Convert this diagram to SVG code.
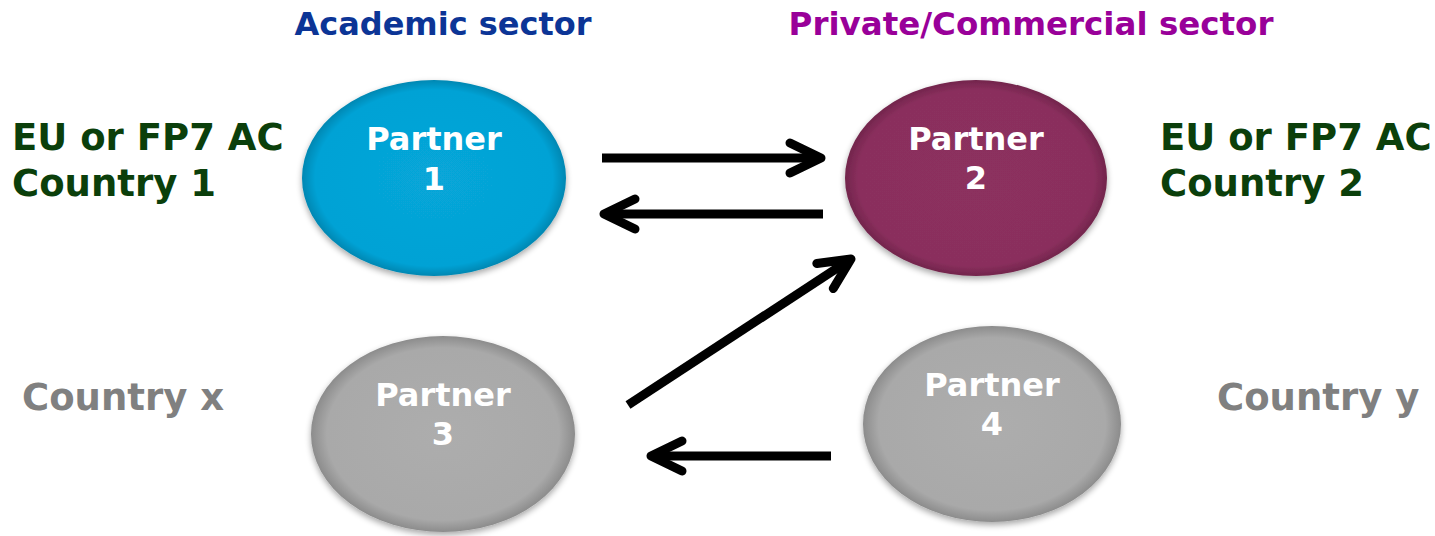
<svg xmlns="http://www.w3.org/2000/svg" width="1435" height="536" viewBox="0 0 1435 536">
<style>
text{font-family:"DejaVu Sans",Verdana,sans-serif;font-weight:bold}
.pt{fill:#ffffff;font-size:32px;text-anchor:middle}
.side{fill:#0b3f0b;font-size:37px}
.gray{fill:#808080;font-size:37px}
.conn line{stroke:#000;stroke-width:9;fill:none}
</style>
<defs>
<radialGradient id="gBlue" cx="50%" cy="50%" r="50%">
<stop offset="0%" stop-color="#07a6d8"/><stop offset="90%" stop-color="#05a2d5"/><stop offset="100%" stop-color="#0587b2"/>
</radialGradient>
<radialGradient id="gPurple" cx="50%" cy="50%" r="50%">
<stop offset="0%" stop-color="#8c305e"/><stop offset="90%" stop-color="#8a2f5d"/><stop offset="100%" stop-color="#72254c"/>
</radialGradient>
<radialGradient id="gGray" cx="50%" cy="50%" r="50%">
<stop offset="0%" stop-color="#adadad"/><stop offset="88%" stop-color="#a9a9a9"/><stop offset="100%" stop-color="#8c8c8c"/>
</radialGradient>
<filter id="sh" x="-10%" y="-10%" width="120%" height="125%">
<feGaussianBlur in="SourceAlpha" stdDeviation="3"/><feOffset dx="0" dy="3" result="b"/>
<feComponentTransfer><feFuncA type="linear" slope="0.35"/></feComponentTransfer>
<feMerge><feMergeNode/><feMergeNode in="SourceGraphic"/></feMerge>
</filter>
<marker id="ah" markerUnits="userSpaceOnUse" markerWidth="60" markerHeight="60" viewBox="-40 -30 50 60" refX="0" refY="0" orient="auto" overflow="visible">
<path d="M -31 -15 L 0 0 L -31 15" fill="none" stroke="#000" stroke-width="9" stroke-linecap="round" stroke-linejoin="round"/>
</marker>
</defs>
<rect width="1435" height="536" fill="#fff"/>
<g id="labels">
<text x="443" y="35" font-size="32" fill="#0c3596" text-anchor="middle">Academic sector</text>
<text x="1031" y="35" font-size="32.5" fill="#990099" text-anchor="middle">Private/Commercial sector</text>
<text class="side" x="12" y="150">EU or FP7 AC</text>
<text class="side" x="12" y="196">Country 1</text>
<text class="side" x="1160" y="150">EU or FP7 AC</text>
<text class="side" x="1160" y="196">Country 2</text>
<text class="gray" x="22" y="410">Country x</text>
<text class="gray" x="1217" y="410">Country y</text>
</g>
<g id="partner1">
<ellipse cx="434" cy="178" rx="132" ry="98" fill="url(#gBlue)" filter="url(#sh)"/>
<text class="pt" x="434" y="150">Partner</text>
<text class="pt" x="434" y="190">1</text>
</g>
<g id="partner2">
<ellipse cx="976" cy="178" rx="131" ry="98" fill="url(#gPurple)" filter="url(#sh)"/>
<text class="pt" x="976" y="150">Partner</text>
<text class="pt" x="976" y="189">2</text>
</g>
<g id="partner3">
<ellipse cx="443" cy="434" rx="132" ry="98" fill="url(#gGray)" filter="url(#sh)"/>
<text class="pt" x="443" y="406">Partner</text>
<text class="pt" x="443" y="445">3</text>
</g>
<g id="partner4">
<ellipse cx="992" cy="424" rx="129" ry="98" fill="url(#gGray)" filter="url(#sh)"/>
<text class="pt" x="992" y="396">Partner</text>
<text class="pt" x="992" y="435">4</text>
</g>
<g id="connectors" class="conn">
<line x1="602" y1="158" x2="821" y2="158" marker-end="url(#ah)"/>
<line x1="823" y1="214" x2="604" y2="214" marker-end="url(#ah)"/>
<line x1="628" y1="405" x2="851" y2="259" marker-end="url(#ah)"/>
<line x1="831" y1="456" x2="651" y2="456" marker-end="url(#ah)"/>
</g>
</svg>
